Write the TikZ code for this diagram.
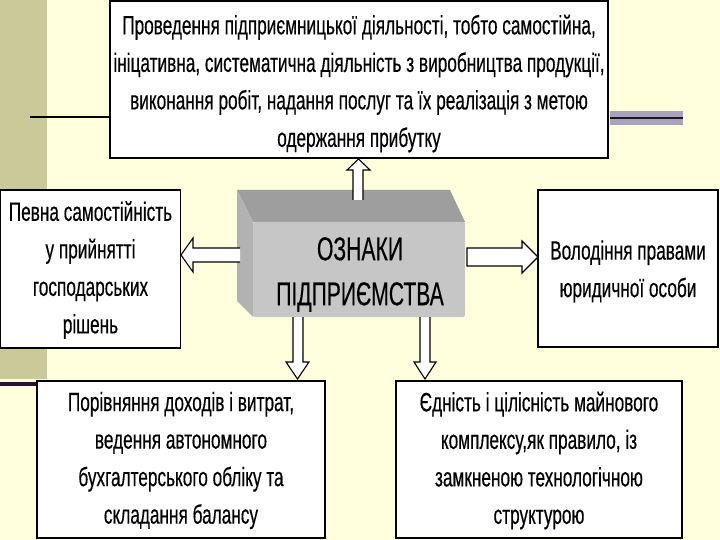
\documentclass[tikz,border=0pt]{standalone}
\usepackage{fontspec}
\usetikzlibrary{calc}
\setmainfont[FakeStretch=0.65,FakeBold=0.4]{Liberation Sans}
\newfontfamily\bigf[FakeStretch=0.64,FakeBold=0.3]{Liberation Sans}
\definecolor{bg}{HTML}{FFFFDE}
\definecolor{band}{HTML}{C9C99A}
\definecolor{lav}{HTML}{A8A3BA}
\definecolor{plum}{HTML}{2E0F2E}
\definecolor{topface}{HTML}{9E9E9E}
\definecolor{leftface}{HTML}{B2B2B2}
\definecolor{frontface}{HTML}{C6C6C6}
\tikzset{
  box/.style={draw=black, line width=1.4pt, fill=white, inner sep=0pt},
  txt/.style={align=center, inner sep=0pt, font=\fontsize{26.5}{37.5}\selectfont},
  barrow/.style={draw=black, line width=1.1pt, fill=white, line join=miter}
}
\begin{document}
\begin{tikzpicture}[x=1pt,y=-1pt]
\useasboundingbox (0,0) rectangle (720,540);
\fill[bg] (0,0) rectangle (720,540);
\fill[band] (0,0) rectangle (47,379);
\fill[plum] (0,381.5) rectangle (40,385.5);
\draw[line width=2pt, black] (30,117.5) -- (110,117.5);
\fill[lav] (610,111) rectangle (683,125);
\draw[line width=2pt, black!85!lav] (610,118) -- (683,118);

\node[box, minimum width=498pt, minimum height=157pt] (top) at (359,79.5) {};
\node[txt] (toptxt) at ($(top.center)+(0,4)$)
  {Проведення підприємницької діяльності, тобто самостійна,\\
   ініцативна, систематична діяльність з виробництва продукції,\\
   виконання робіт, надання послуг та їх реалізація з метою\\
   одержання прибутку};
\node[box, minimum width=180pt, minimum height=158pt] (left) at (90.5,269) {};
\node[txt] (lefttxt) at ($(left.center)+(0,1)$)
  {Певна самостійність\\у прийнятті\\господарських\\рішень};
\node[box, minimum width=180pt, minimum height=157pt] (right) at (628,268.5) {};
\node[txt] (righttxt) at ($(right.center)+(0,3)$)
  {Володіння правами\\юридичної особи};
\node[box, minimum width=288pt, minimum height=157pt] (bl) at (181,459.5) {};
\node[txt] (bltxt) at ($(bl.center)+(0,1)$)
  {Порівняння доходів і витрат,\\ведення автономного\\бухгалтерського обліку та\\складання балансу};
\node[box, minimum width=286pt, minimum height=157pt] (br) at (539,459.5) {};
\node[txt] (brtxt) at ($(br.center)+(0,1)$)
  {Єдність і цілісність майнового\\комплексу,як правило, із\\замкненою технологічною\\структурою};

% central 3D block
\fill[topface] (237,190) -- (450,190) -- (465,222) -- (253,222) -- cycle;
\fill[leftface] (237,190) -- (253,222) -- (253,317) -- (237,301) -- cycle;
\node[fill=frontface, minimum width=212pt, minimum height=95pt, inner sep=0pt,
      rounded corners=2pt] (c) at (359,269.5) {};
\node[align=center, inner sep=0pt, font=\bigf\fontsize{33}{45}\selectfont]
      (ctxt) at ($(c.center)+(1,5)$) {ОЗНАКИ\\ПІДПРИЄМСТВА};

% block arrows
\draw[barrow] (353,200) -- (353,170) -- (347,170) -- (358.5,159) -- (370,170) -- (363,170) -- (363,200);
\draw[barrow] (240,248) -- (193,248) -- (193,238) -- (181,255) -- (193,272) -- (193,262) -- (240,262);
\draw[barrow] (467,248) -- (522,248) -- (522,241) -- (538,257) -- (522,273) -- (522,266) -- (467,266) -- cycle;
\draw[barrow] (293,317) -- (293,362) -- (286,362) -- (297.5,379) -- (309,362) -- (303,362) -- (303,317);
\draw[barrow] (420,317) -- (420,362) -- (414,362) -- (425,379) -- (436,362) -- (430,362) -- (430,317);
\end{tikzpicture}
\end{document}
